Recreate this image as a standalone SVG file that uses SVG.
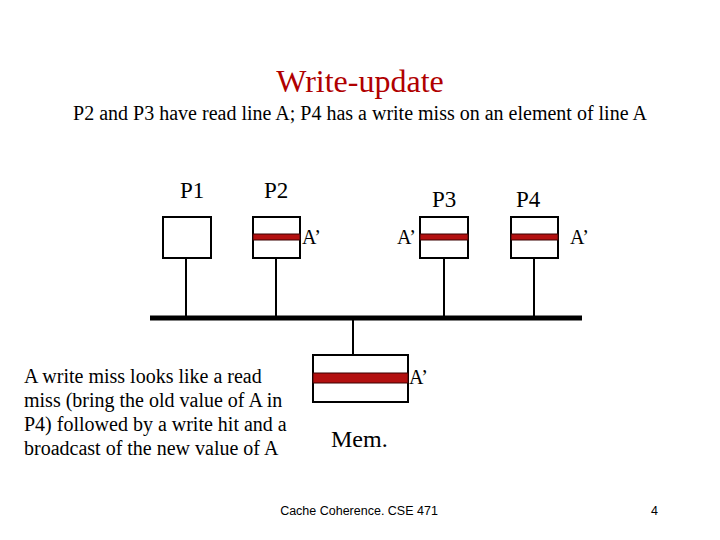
<svg xmlns="http://www.w3.org/2000/svg" width="720" height="540" viewBox="0 0 720 540">
<style>
.t{font-family:"Liberation Serif","Times New Roman",serif;fill:#000}
.box{fill:#fff;stroke:#000;stroke-width:2}
.band{fill:#b31010;stroke:#3a0000;stroke-width:1}
.wire{stroke:#000;stroke-width:2;fill:none}
</style>
<rect width="720" height="540" fill="#fff"/>
<text class="t" x="360" y="92" font-size="32" text-anchor="middle" style="fill:#b00000">Write-update</text>
<text class="t" x="360" y="120" font-size="20" text-anchor="middle">P2 and P3 have read line A; P4 has a write miss on an element of line A</text>
<g id="connectors">
<line x1="150" y1="318" x2="582" y2="318" stroke="#000" stroke-width="5"/>
<line class="wire" x1="186" y1="258" x2="186" y2="318"/>
<line class="wire" x1="276" y1="258" x2="276" y2="318"/>
<line class="wire" x1="444" y1="258" x2="444" y2="318"/>
<line class="wire" x1="534" y1="258" x2="534" y2="318"/>
<line class="wire" x1="353" y1="318" x2="353" y2="355"/>
</g>
<g id="P1">
<rect class="box" x="163" y="217" width="48" height="41"/>
<text class="t" x="180" y="198" font-size="23">P1</text>
</g>
<g id="P2">
<rect class="box" x="253" y="217" width="47" height="41"/>
<rect class="band" x="253" y="234" width="47" height="6"/>
<text class="t" x="264" y="198" font-size="23">P2</text>
<text class="t" x="302" y="244" font-size="20">A’</text>
</g>
<g id="P3">
<rect class="box" x="420" y="217" width="48" height="41"/>
<rect class="band" x="420" y="234" width="48" height="6"/>
<text class="t" x="432" y="207" font-size="23">P3</text>
<text class="t" x="397" y="244" font-size="20">A’</text>
</g>
<g id="P4">
<rect class="box" x="511" y="217" width="47" height="41"/>
<rect class="band" x="511" y="234" width="47" height="6"/>
<text class="t" x="516" y="207" font-size="23">P4</text>
<text class="t" x="570" y="244" font-size="20">A’</text>
</g>
<g id="Mem">
<rect class="box" x="313" y="355" width="95" height="47"/>
<rect class="band" x="313" y="373" width="95" height="10"/>
<text class="t" x="409" y="384" font-size="20">A’</text>
<text class="t" x="331" y="447" font-size="24">Mem.</text>
</g>
<g id="note" class="t" font-size="20">
<text x="24" y="383">A write miss looks like a read</text>
<text x="24" y="407">miss (bring the old value of A in</text>
<text x="24" y="431">P4) followed by a write hit and a</text>
<text x="24" y="455">broadcast of the new value of A</text>
</g>
<text x="359" y="515" font-family="Liberation Sans,Arial,sans-serif" font-size="12.5" text-anchor="middle">Cache Coherence.  CSE 471</text>
<text x="651" y="515" font-family="Liberation Sans,Arial,sans-serif" font-size="12.5">4</text>
</svg>
